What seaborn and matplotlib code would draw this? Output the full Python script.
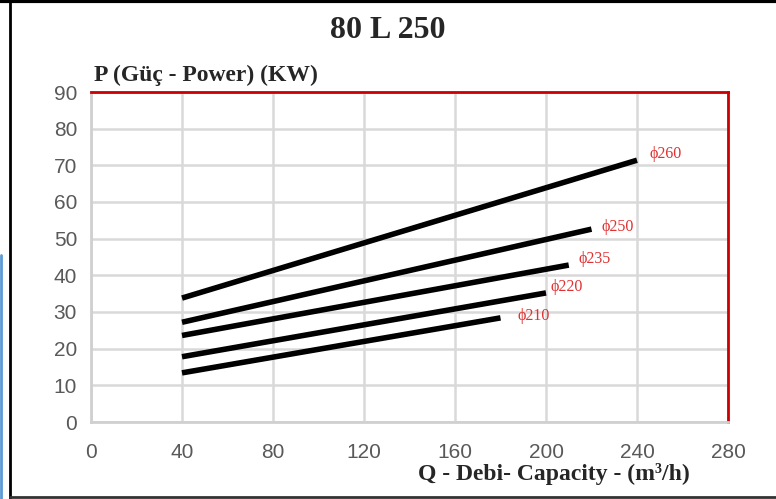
import matplotlib
matplotlib.use("Agg")
import matplotlib.pyplot as plt
import matplotlib.lines as mlines
import pandas as pd
import seaborn as sns

# impeller curves, power vs capacity
diameters = ["ϕ260", "ϕ250", "ϕ235", "ϕ220", "ϕ210"]
q_start = [40, 40, 40, 40, 40]
q_end = [240, 220, 210, 200, 180]
p_start = [33.8, 27.2, 23.6, 17.8, 13.4]
p_end = [71.4, 52.6, 42.8, 35.2, 28.4]
label_offsets = [(9, -1.5), (7, -4.5), (7, -1.5), (3, -1.5), (12, -4.5)]

x_ticks = [0, 40, 80, 120, 160, 200, 240, 280]
y_ticks = [0, 10, 20, 30, 40, 50, 60, 70, 80, 90]

rows = []
for d, qs, qe, ps, pe in zip(diameters, q_start, q_end, p_start, p_end):
    rows.append({"d": d, "Q": qs, "P": ps})
    rows.append({"d": d, "Q": qe, "P": pe})
df = pd.DataFrame(rows)

sns.set_theme(style="white")
plt.rcParams['font.family'] = ['Liberation Sans', 'DejaVu Sans']

fig = plt.figure(figsize=(7.76, 4.99), dpi=100)
ax = fig.add_axes([91 / 776, 1 - 422 / 499, 637 / 776, 330 / 499])

sns.lineplot(data=df, x="Q", y="P", units="d", estimator=None, color="black",
             linewidth=4, solid_capstyle="butt", ax=ax, legend=False)

for d, qe, pe, off in zip(diameters, q_end, p_end, label_offsets):
    ax.annotate(d, (qe, pe), xytext=off, textcoords="offset points",
                color="#e03030", fontsize=11.5, family=["Liberation Serif", "DejaVu Serif"],
                ha="left", va="bottom")

ax.set_xlim(0, 280)
ax.set_ylim(0, 90)
ax.set_xticks(x_ticks)
ax.set_yticks(y_ticks)
ax.grid(True, color="#d9d9d9", linewidth=1.8)
ax.set_axisbelow(True)
ax.tick_params(axis="both", length=0, labelsize=15, colors="#595959", pad=15)
ax.tick_params(axis="y", pad=10)
ax.set_xlabel("")
ax.set_ylabel("")

for side in ["left", "bottom"]:
    ax.spines[side].set_color("#d0d0d0")
    ax.spines[side].set_linewidth(2)
for side in ["top", "right"]:
    ax.spines[side].set_color("#cc0000")
    ax.spines[side].set_linewidth(2)

serif = ["Liberation Serif", "DejaVu Serif"]
fig.text(388 / 776, 1 - 31 / 499, "80 L 250", ha="center", va="center",
         fontsize=23, fontweight="bold", family=serif)
fig.text(94 / 776, 1 - 75 / 499, "P (Güç - Power) (KW)", ha="left", va="center",
         fontsize=17, fontweight="bold", family=serif)
fig.text(690 / 776, 1 - 474 / 499, "Q - Debi- Capacity - (m³/h)", ha="right", va="center",
         fontsize=17, fontweight="bold", family=serif)

# outer frame
fig.add_artist(mlines.Line2D([10 / 776, 10 / 776], [0, 1], color="black", linewidth=2,
                             transform=fig.transFigure))
fig.add_artist(mlines.Line2D([0, 1], [1 - 1 / 499, 1 - 1 / 499], color="black", linewidth=3,
                             transform=fig.transFigure))
fig.add_artist(mlines.Line2D([10 / 776, 1], [1 - 497 / 499, 1 - 497 / 499], color="#333333",
                             linewidth=2, transform=fig.transFigure))
fig.add_artist(mlines.Line2D([1 / 776, 1 / 776], [0, 1 - 255 / 499], color="#5b9bd5",
                             linewidth=2, transform=fig.transFigure))

fig.savefig("out.png", dpi=100)
